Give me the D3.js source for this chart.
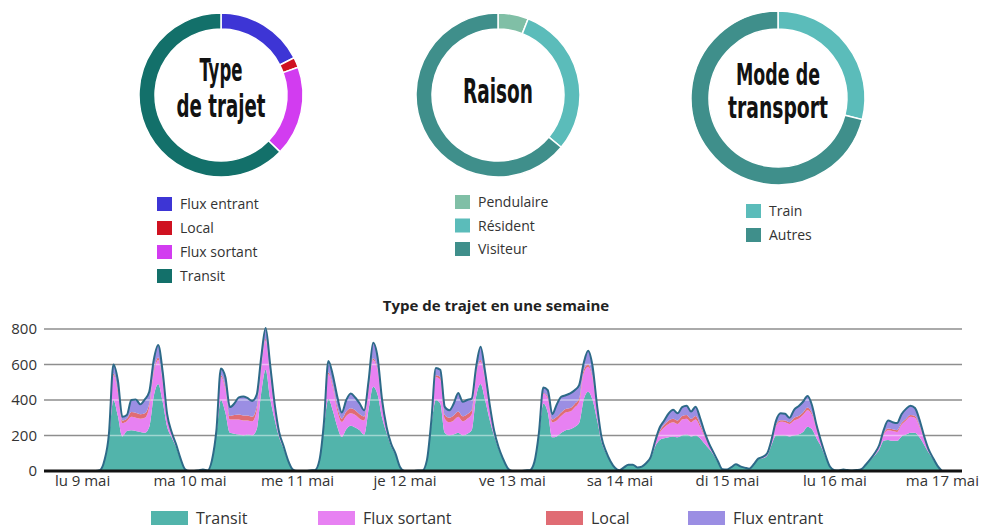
<!DOCTYPE html>
<html>
<head>
<meta charset="utf-8">
<script src="https://cdn.jsdelivr.net/npm/d3@7"></script>
<style>
  body { margin: 0; background: #fff; }
  svg { display: block; font-family: "Open Sans", "Noto Sans", sans-serif; }
</style>
</head>
<body>
<svg id="chart" width="983" height="529"></svg>
<script>
// ---- Donut data ----
const tripTypes = ["Flux entrant", "Local", "Flux sortant", "Transit"];
const tripShares = [17.5, 2, 17.7, 62.8];
const tripColors = ["#3d35d5", "#cf1221", "#d23cf0", "#13706a"];

const reasons = ["Pendulaire", "Résident", "Visiteur"];
const reasonShares = [6, 30, 64];
const reasonColors = ["#80bfa6", "#5bbcba", "#3f8f8b"];

const modes = ["Train", "Autres"];
const modeShares = [29, 71];
const modeColors = ["#5bbcba", "#3f8f8b"];

// ---- Weekly series (hourly, 9 May 00h -> 17 May 00h) ----
const dayLabels = ["lu 9 mai", "ma 10 mai", "me 11 mai", "je 12 mai", "ve 13 mai",
                   "sa 14 mai", "di 15 mai", "lu 16 mai", "ma 17 mai"];
const yTicks = [0, 200, 400, 600, 800];
const seriesNames = ["Transit", "Flux sortant", "Local", "Flux entrant"];
const seriesColors = ["#52b4ab", "#e781f2", "#e06c74", "#9b8ee3"];

const transit = [
  0,0,0,0,5,58,190,400,310,195,225,230,225,220,215,248,420,490,390,250,190,135,66,10,
  0,0,3,8,3,58,210,400,330,215,210,205,200,205,200,235,440,570,410,290,190,125,56,10,
  0,0,0,3,5,58,245,405,340,250,192,235,255,245,230,205,350,475,430,300,215,140,92,22,
  0,0,0,3,3,58,260,400,380,215,200,205,215,200,210,230,420,490,400,290,200,125,66,17,
  0,0,0,3,5,48,195,380,330,190,195,215,230,235,248,270,400,446,400,290,165,100,52,17,
  4,20,35,35,20,25,43,72,140,175,185,190,195,190,200,205,195,200,185,155,125,92,50,10,
  8,22,38,26,19,13,37,66,72,88,150,200,200,200,195,200,205,220,250,235,185,140,80,24,
  5,3,8,5,3,5,10,33,60,88,120,170,175,170,170,195,205,215,215,190,150,105,68,29,
  0
];
const fluxSortant = [
  0,0,0,0,0,1,10,140,130,75,55,75,75,75,85,113,130,135,110,45,20,10,3,0,
  0,0,0,0,0,1,12,130,130,75,80,85,85,80,80,105,135,165,125,55,20,10,3,0,
  0,0,0,0,0,1,15,140,130,90,85,75,70,70,65,80,110,150,135,60,22,10,4,1,
  0,0,0,0,0,1,15,130,135,80,75,80,90,80,85,90,120,125,110,60,20,7,3,1,
  0,0,0,0,0,1,10,55,80,85,90,95,100,100,110,120,150,141,120,55,17,7,2,1,
  0,0,0,0,0,0,1,5,18,40,60,75,80,75,90,90,80,90,65,40,20,8,3,0,
  0,0,0,0,0,0,1,3,5,8,20,55,77,75,70,85,90,95,92,80,50,22,7,1,
  0,0,0,0,0,0,0,1,3,7,15,35,55,55,50,65,80,90,85,60,35,13,5,1,
  0
];
const local = [
  0,0,0,0,0,0,2,10,15,15,15,28,28,25,25,19,15,15,10,5,2,1,0,0,
  0,0,0,0,0,0,2,10,15,20,25,28,28,27,25,20,15,10,10,5,2,1,0,0,
  0,0,0,0,0,0,2,10,15,20,18,25,28,27,25,22,15,10,10,5,3,1,0,0,
  0,0,0,0,0,0,2,10,15,20,25,28,30,28,25,22,12,10,10,6,2,1,0,0,
  0,0,0,0,0,0,1,5,10,15,20,20,20,20,20,18,18,15,12,6,2,1,0,0,
  0,0,0,0,0,0,0,1,4,10,15,20,20,20,20,20,18,20,15,8,3,1,0,0,
  0,0,0,0,0,0,0,0,1,1,3,8,9,10,10,15,15,15,16,12,8,3,1,0,
  0,0,0,0,0,0,0,0,1,1,3,7,10,10,10,10,10,10,10,8,5,2,1,0,
  0
];
const fluxEntrant = [
  0,0,0,0,0,1,8,50,55,20,20,67,75,56,78,66,60,70,50,20,8,4,1,0,
  0,0,0,0,0,1,6,38,55,50,65,97,107,98,90,70,50,60,55,30,8,4,1,0,
  0,0,0,0,0,1,8,65,55,58,35,65,84,72,60,35,37,88,65,35,8,3,2,0,
  0,0,0,0,0,1,9,40,40,46,42,67,105,82,80,66,35,75,40,24,8,2,1,0,
  0,0,0,0,0,1,4,30,35,30,70,88,77,82,77,76,38,76,58,19,6,2,1,0,
  0,0,0,0,0,0,1,2,8,20,25,40,50,40,50,53,42,52,35,17,7,4,2,0,
  0,0,0,0,0,0,0,1,1,3,7,22,39,37,25,45,55,60,64,43,17,5,2,0,
  0,0,0,0,0,0,0,1,1,4,7,18,45,40,40,50,55,53,45,32,10,5,1,0,
  0
];

const svg = d3.select("#chart");

// ---------- Donuts ----------
function donut(cx, cy, rOut, rIn, values, colors, lines, lineWidths, baselines, fontSize) {
  const g = svg.append("g").attr("transform", `translate(${cx},${cy})`);
  const pie = d3.pie().sort(null).value(d => d);
  const arc = d3.arc().innerRadius(rIn).outerRadius(rOut);
  g.selectAll("path").data(pie(values)).join("path")
    .attr("d", arc)
    .attr("fill", (d, i) => colors[i])
    .attr("stroke", "#fff")
    .attr("stroke-width", 1.5);
  lines.forEach((t, i) => {
    g.append("text")
      .attr("x", 0).attr("y", baselines[i] - cy)
      .attr("text-anchor", "middle")
      .attr("font-family", "'Liberation Sans Narrow', 'DejaVu Sans Condensed', sans-serif")
      .attr("font-weight", "bold")
      .attr("font-size", fontSize)
      .attr("fill", "#121212")
      .attr("textLength", lineWidths[i])
      .attr("lengthAdjust", "spacingAndGlyphs")
      .text(t);
  });
}

function legend(x, y0, step, names, colors) {
  const g = svg.append("g");
  names.forEach((n, i) => {
    const y = y0 + i * step;
    g.append("rect").attr("x", x).attr("y", y - 7).attr("width", 15).attr("height", 14)
      .attr("fill", colors[i]);
    g.append("text").attr("x", x + 23).attr("y", y + 5)
      .attr("font-size", 14).attr("fill", "#333").text(n);
  });
}

donut(221, 95, 82, 66, tripShares, tripColors, ["Type", "de trajet"], [43, 89], [81, 117], 32);
donut(498, 95, 82, 66, reasonShares, reasonColors, ["Raison"], [70], [103], 34);
donut(778, 98, 87, 69, modeShares, modeColors, ["Mode de", "transport"], [84, 100], [85, 118], 29.5);

legend(157, 204, 24, tripTypes, tripColors);
legend(455, 202, 23.5, reasons, reasonColors);
legend(746, 211, 24, modes, modeColors);

// ---------- Weekly stacked area ----------
const start = new Date(2016, 4, 9, 0);
const rows = transit.map((v, i) => ({
  date: d3.timeHour.offset(start, i),
  transit: v, sortant: fluxSortant[i], local: local[i], entrant: fluxEntrant[i]
}));
const keys = ["transit", "sortant", "local", "entrant"];

const x = d3.scaleTime()
  .domain([new Date(2016, 4, 8, 15, 30), new Date(2016, 4, 17, 4, 30)])
  .range([44, 962]);
const y = d3.scaleLinear().domain([0, 800]).range([471, 329]);

svg.append("text")
  .attr("x", 496).attr("y", 311)
  .attr("text-anchor", "middle")
  .attr("font-size", 15).attr("font-weight", "bold").attr("fill", "#222")
  .text("Type de trajet en une semaine");

// grid
const grid = svg.append("g");
grid.selectAll("line").data(yTicks.filter(d => d > 0)).join("line")
  .attr("x1", 44).attr("x2", 962)
  .attr("y1", d => y(d)).attr("y2", d => y(d))
  .attr("stroke", "#8e8e8e").attr("stroke-width", 1.6);

// y labels
const yAxis = d3.axisLeft(y).tickValues(yTicks).tickSize(0).tickPadding(0);
const ya = svg.append("g").attr("transform", "translate(37,0)").call(yAxis);
ya.select(".domain").remove();
ya.selectAll("text").attr("font-size", 15).attr("fill", "#333")
  .attr("font-family", "'Open Sans', sans-serif");

const stacked = d3.stack().keys(keys)(rows);
const area = d3.area()
  .x(d => x(d.data.date))
  .y0(d => y(d[0])).y1(d => y(d[1]))
  .curve(d3.curveMonotoneX);

svg.append("g").selectAll("path").data(stacked).join("path")
  .attr("d", area)
  .attr("fill", (d, i) => seriesColors[i]);

// light grid lines showing through the filled areas
const totalArea = d3.area()
  .x(d => x(d.data.date))
  .y0(y(0)).y1(d => y(d[1]))
  .curve(d3.curveMonotoneX);
svg.append("clipPath").attr("id", "fillClip")
  .append("path").attr("d", totalArea(stacked[stacked.length - 1]));
svg.append("g").attr("clip-path", "url(#fillClip)")
  .selectAll("line").data(yTicks.filter(d => d > 0)).join("line")
  .attr("x1", 44).attr("x2", 962)
  .attr("y1", d => y(d)).attr("y2", d => y(d))
  .attr("stroke", "#ffffff").attr("stroke-opacity", 0.45).attr("stroke-width", 1.6);

// outline of the total
const topLine = d3.line()
  .x(d => x(d.data.date)).y(d => y(d[1]))
  .curve(d3.curveMonotoneX);
svg.append("path")
  .attr("d", topLine(stacked[stacked.length - 1]))
  .attr("fill", "none").attr("stroke", "#2d6a88").attr("stroke-width", 2)
  .attr("stroke-linejoin", "round");

// baseline
svg.append("line").attr("x1", 44).attr("x2", 962)
  .attr("y1", y(0)).attr("y2", y(0))
  .attr("stroke", "#111").attr("stroke-width", 3);

// x labels
const tickDates = dayLabels.map((_, i) => d3.timeDay.offset(start, i));
const xAxis = d3.axisBottom(x).tickValues(tickDates).tickSize(0).tickPadding(0)
  .tickFormat((d, i) => dayLabels[i]);
const xa = svg.append("g").attr("transform", `translate(0,${y(0) + 4})`).call(xAxis);
xa.select(".domain").remove();
xa.selectAll("text").attr("font-size", 15).attr("fill", "#333")
  .attr("font-family", "'Open Sans', sans-serif");

// bottom legend
const legX = [151, 318, 546, 688];
const lg = svg.append("g");
seriesNames.forEach((n, i) => {
  lg.append("rect").attr("x", legX[i]).attr("y", 511).attr("width", 37).attr("height", 14)
    .attr("fill", seriesColors[i]);
  lg.append("text").attr("x", legX[i] + 45).attr("y", 524)
    .attr("font-size", 16).attr("fill", "#333").text(n);
});
</script>
</body>
</html>
